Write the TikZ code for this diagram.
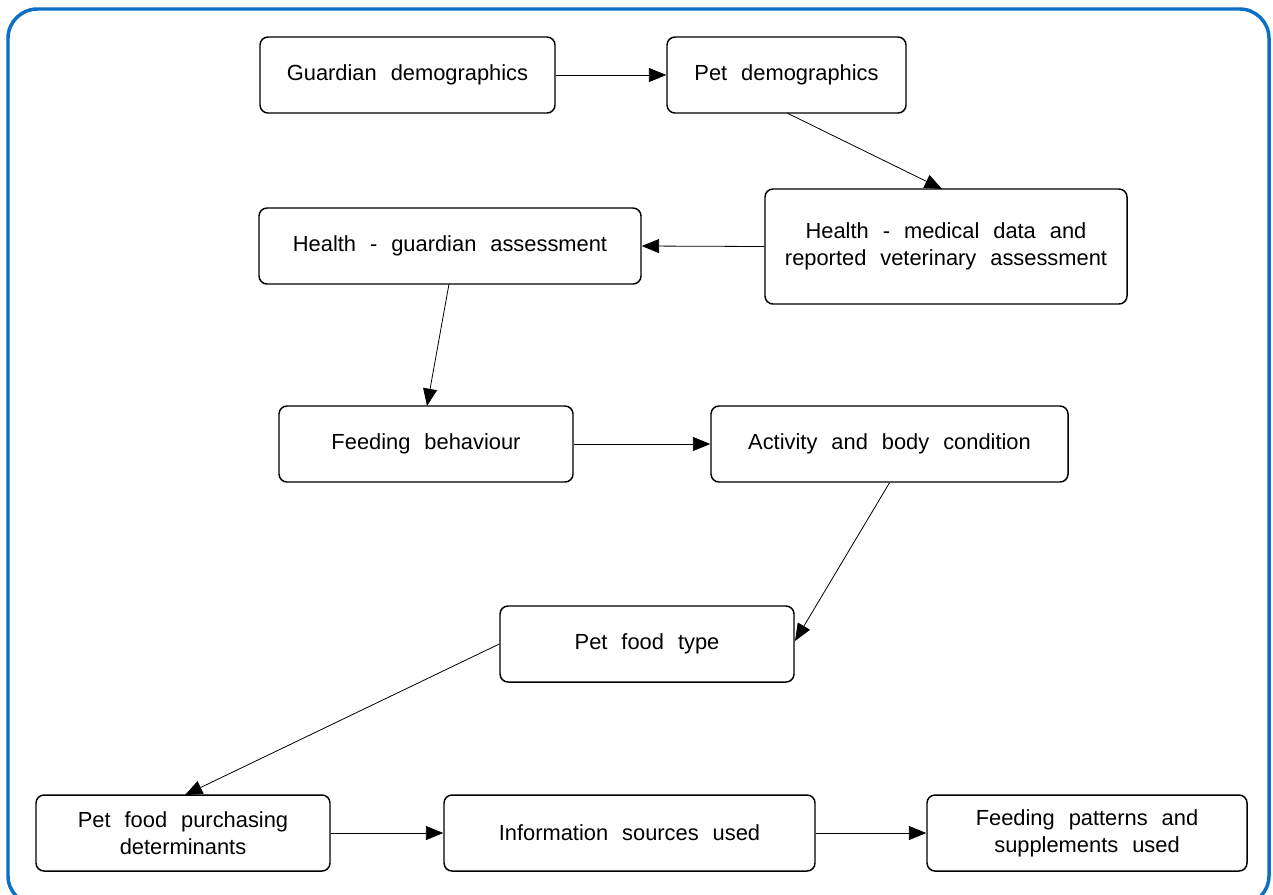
\documentclass[tikz,border=0pt]{standalone}
\usepackage{fontspec}
\setmainfont[WordSpace=2.3]{Liberation Sans}
\usetikzlibrary{arrows.meta}
\definecolor{frameblue}{HTML}{0A6FC6}
\begin{document}
\begin{tikzpicture}[x=0.75pt,y=-0.75pt,
  box/.style={draw=black, line width=1.1pt, rounded corners=6pt, inner sep=0pt,
    align=center, font=\fontsize{16.4}{20}\selectfont},
  sz/.style 2 args={minimum width=#1*0.75pt, minimum height=#2*0.75pt},
  conn/.style={draw=black, line width=0.6pt, -{Triangle[length=13pt,width=10.5pt]}}]
\useasboundingbox (0,0) rectangle (1273,894);
\draw[frameblue, line width=2.6pt, rounded corners=22pt] (8,9) rectangle (1269,905);

\node[box, sz={295}{76}] (gd) at (407.5,75) {Guardian demographics};
\node[box, sz={239}{76}] (pd) at (786.5,75) {Pet demographics};
\node[box, sz={362}{115}] (hm) at (946,246.5) {Health - medical data and\\reported veterinary assessment};
\node[box, sz={382}{76}] (hg) at (450,246) {Health - guardian assessment};
\node[box, sz={294}{76}] (fb) at (426,444) {Feeding behaviour};
\node[box, sz={357}{76}] (ab) at (889.5,444) {Activity and body condition};
\node[box, sz={294}{76}] (pf) at (647,644) {Pet food type};
\node[box, sz={294}{76}] (pp) at (183,833) {Pet food purchasing\\determinants};
\node[box, sz={371}{76}] (is) at (629.5,833) {Information sources used};
\node[box, sz={320}{76}] (fp) at (1087,833) {Feeding patterns and\\supplements used};

\coordinate (a1) at (787,113);
\coordinate (b1) at (942,189);
\coordinate (a2) at (449,284);
\coordinate (b2) at (427,406);
\coordinate (b3) at (795,641);
\coordinate (b4) at (185,795);

\draw[conn] (gd.east) -- (pd.west);
\draw[conn] (a1) -- (b1);
\draw[conn] (hm.west) -- (hg.east);
\draw[conn] (a2) -- (b2);
\draw[conn] (fb.east) -- (ab.west);
\draw[conn] (ab.south) -- (b3);
\draw[conn] (pf.west) -- (b4);
\draw[conn] (pp.east) -- (is.west);
\draw[conn] (is.east) -- (fp.west);
\end{tikzpicture}
\end{document}
